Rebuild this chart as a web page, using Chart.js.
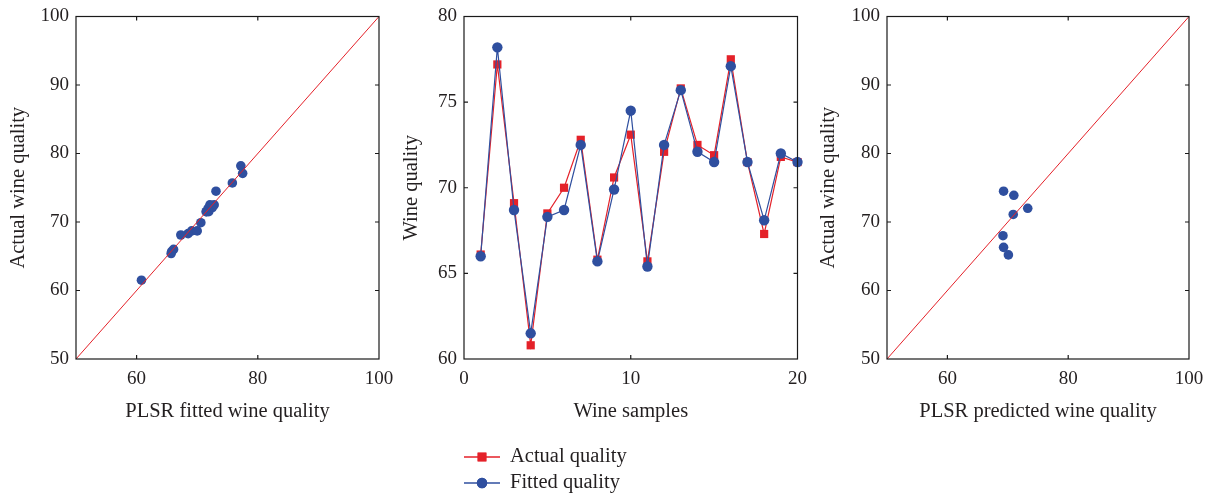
<!DOCTYPE html>
<html><head><meta charset="utf-8">
<script src="https://cdn.jsdelivr.net/npm/chart.js@4.4.1/dist/chart.umd.min.js"></script>
<style>
html,body{margin:0;padding:0;background:#fff;width:1213px;height:496px;overflow:hidden}
.box{position:absolute;top:0;height:496px}
canvas{display:block}
</style></head><body>
<div class="box" style="left:0;width:420px"><canvas id="c1" width="420" height="496"></canvas></div>
<div class="box" style="left:390px;width:426px"><canvas id="c2" width="426" height="496"></canvas></div>
<div class="box" style="left:810px;width:403px"><canvas id="c3" width="403" height="496"></canvas></div>
<script>
// ---- data ----
const sampleIds = [1,2,3,4,5,6,7,8,9,10,11,12,13,14,15,16,17,18,19,20];
const actualQuality = [66.1,77.2,69.1,60.8,68.5,70.0,72.8,65.8,70.6,73.1,65.7,72.1,75.8,72.5,71.9,77.5,71.5,67.3,71.8,71.5];
const fittedQuality = [66.0,78.2,68.7,61.5,68.3,68.7,72.5,65.7,69.9,74.5,65.4,72.5,75.7,72.1,71.5,77.1,71.5,68.1,72.0,71.5];
const predictedQuality = [69.3,71.0,70.9,73.3,69.2,69.3,70.1];
const predictedActual  = [74.5,73.9,71.1,72.0,68.0,66.3,65.2];
const diagonalLine = [50,100];
const qualityTicksX = [60,80,100];
const qualityTicksY = [50,60,70,80,90,100];
const sampleTicks = [0,10,20];
const wineTicks = [60,65,70,75,80];

const RED = '#e42129', BLUE = '#2f4f9f', TXT = '#231f20';
const FAMILY = '"Liberation Serif","DejaVu Serif",serif';
const TICKFONT = {family:FAMILY, size:19};
const YTICKFONT = {family:FAMILY, size:19, lineHeight:1};
const TITLEFONT = {family:FAMILY, size:20.5};

const framePlugin = {
  id:'frame',
  afterDraw(chart){
    const {ctx, chartArea:a, scales} = chart;
    ctx.save();
    ctx.strokeStyle = '#1a1a1a'; ctx.lineWidth = 1.2;
    ctx.strokeRect(a.left, a.top, a.right-a.left, a.bottom-a.top);
    const L = 4;
    ctx.beginPath();
    scales.x.ticks.forEach(t=>{
      const p = scales.x.getPixelForValue(t.value);
      if (p <= a.left+1 || p >= a.right-1) return;
      ctx.moveTo(p,a.bottom); ctx.lineTo(p,a.bottom-L);
      ctx.moveTo(p,a.top); ctx.lineTo(p,a.top+L);
    });
    scales.y.ticks.forEach(t=>{
      const p = scales.y.getPixelForValue(t.value);
      if (p <= a.top+1 || p >= a.bottom-1) return;
      ctx.moveTo(a.left,p); ctx.lineTo(a.left+L,p);
      ctx.moveTo(a.right,p); ctx.lineTo(a.right-L,p);
    });
    ctx.stroke();
    ctx.restore();
  }
};

function axes(o){
  return {
    x:{type:'linear', min:o.xMin, max:o.xMax,
       afterBuildTicks:s=>{s.ticks=o.xTicks.map(v=>({value:v}));},
       afterFit:s=>{s.height=71;},
       grid:{display:false, drawTicks:false}, border:{display:false},
       ticks:{padding:9, font:TICKFONT, color:TXT, maxRotation:0, autoSkip:false},
       title:{display:true, text:o.xTitle, font:TITLEFONT, color:TXT, padding:{top:0,bottom:6}}},
    y:{type:'linear', min:o.yMin, max:o.yMax,
       afterBuildTicks:s=>{s.ticks=o.yTicks.map(v=>({value:v}));},
       afterFit:s=>{s.width=o.yW;},
       grid:{display:false, drawTicks:false}, border:{display:false},
       ticks:{padding:7, font:YTICKFONT, color:TXT, autoSkip:false},
       title:{display:true, text:o.yTitle, font:TITLEFONT, color:TXT, padding:{top:o.yTP,bottom:0}}}
  };
}

const common = {
  responsive:false, animation:false, events:[],
  plugins:{legend:{display:false}, tooltip:{enabled:false}}
};

// Panel 1
new Chart(document.getElementById('c1'), {
  type:'scatter',
  data:{datasets:[
    {type:'line', data:diagonalLine.map(v=>({x:v,y:v})), borderColor:RED, borderWidth:1, pointRadius:0, fill:false},
    {data:actualQuality.map((v,i)=>({x:v,y:fittedQuality[i]})), backgroundColor:BLUE, borderColor:BLUE, pointRadius:4.8, borderWidth:0}
  ]},
  options:Object.assign({}, common, {
    layout:{padding:{left:0,top:16,right:41,bottom:66}},
    scales:axes({xMin:50,xMax:100,xTicks:qualityTicksX,yMin:50,yMax:100,yTicks:qualityTicksY,
      xTitle:'PLSR fitted wine quality', yTitle:'Actual wine quality', yW:76, yTP:6})
  }),
  plugins:[framePlugin]
});

// Panel 2
const legendPlugin = {
  id:'customLegend',
  afterDraw(chart){
    const ctx = chart.ctx;
    const items = [
      {ds:chart.data.datasets[1], y:457, r:6.2},
      {ds:chart.data.datasets[0], y:483, r:5.2}
    ];
    ctx.save();
    items.forEach(it=>{
      ctx.strokeStyle = it.ds.borderColor; ctx.lineWidth = 1.4;
      ctx.beginPath(); ctx.moveTo(74,it.y); ctx.lineTo(110,it.y); ctx.stroke();
      ctx.fillStyle = it.ds.backgroundColor;
      Chart.helpers.drawPoint(ctx, {pointStyle:it.ds.pointStyle, radius:it.r, borderWidth:0, rotation:0}, 92, it.y);
      ctx.fill();
      ctx.fillStyle = TXT;
      ctx.font = '20.5px ' + FAMILY;
      ctx.textBaseline = 'middle'; ctx.textAlign = 'left';
      ctx.fillText(it.ds.label, 120, it.y);
    });
    ctx.restore();
  }
};
new Chart(document.getElementById('c2'), {
  type:'line',
  data:{datasets:[
    {label:'Fitted quality', data:sampleIds.map((s,i)=>({x:s,y:fittedQuality[i]})), borderColor:BLUE, backgroundColor:BLUE,
     pointStyle:'circle', pointRadius:5.2, pointBorderWidth:0, borderWidth:1.2, tension:0, clip:false},
    {label:'Actual quality', data:sampleIds.map((s,i)=>({x:s,y:actualQuality[i]})), borderColor:RED, backgroundColor:RED,
     pointStyle:'rect', pointRadius:5.8, pointBorderWidth:0, borderWidth:1.2, tension:0, clip:false}
  ]},
  options:Object.assign({}, common, {
    layout:{padding:{left:0,top:16,right:13,bottom:66}},
    scales:axes({xMin:0,xMax:20,xTicks:sampleTicks,yMin:60,yMax:80,yTicks:wineTicks,
      xTitle:'Wine samples', yTitle:'Wine quality', yW:74, yTP:9})
  }),
  plugins:[framePlugin, legendPlugin]
});

// Panel 3
new Chart(document.getElementById('c3'), {
  type:'scatter',
  data:{datasets:[
    {type:'line', data:diagonalLine.map(v=>({x:v,y:v})), borderColor:RED, borderWidth:1, pointRadius:0, fill:false},
    {data:predictedQuality.map((v,i)=>({x:v,y:predictedActual[i]})), backgroundColor:BLUE, borderColor:BLUE, pointRadius:4.8, borderWidth:0}
  ]},
  options:Object.assign({}, common, {
    layout:{padding:{left:0,top:16,right:24,bottom:66}},
    scales:axes({xMin:50,xMax:100,xTicks:qualityTicksX,yMin:50,yMax:100,yTicks:qualityTicksY,
      xTitle:'PLSR predicted wine quality', yTitle:'Actual wine quality', yW:77, yTP:6})
  }),
  plugins:[framePlugin]
});
</script>
</body></html>
